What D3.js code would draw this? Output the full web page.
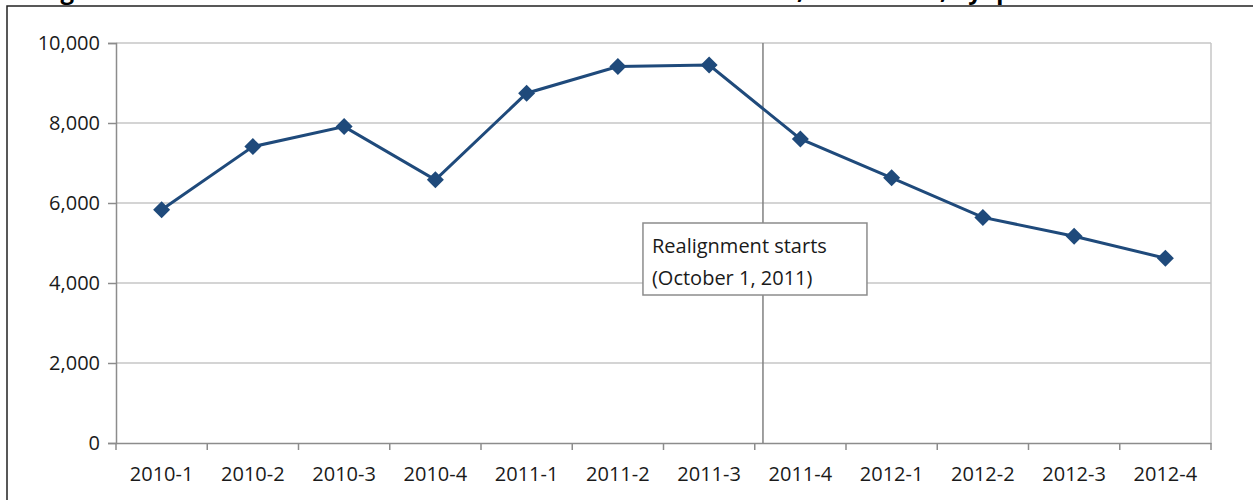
<!DOCTYPE html>
<html lang="en">

<head>
    <meta charset="UTF-8">
    <title>Realignment chart</title>
    <script src="https://d3js.org/d3.v7.min.js"></script>
    <style>
        body {
            margin: 0;
            background: #fff;
        }

        text {
            font-family: "Open Sans", "Noto Sans", sans-serif;
            fill: #1a1a1a;
        }
    </style>
</head>

<body>
    <svg width="1253" height="500"></svg>

    <script>
        const width = 1253;
        const height = 500;

        // data
        const quarters = ["2010-1", "2010-2", "2010-3", "2010-4", "2011-1", "2011-2",
            "2011-3", "2011-4", "2012-1", "2012-2", "2012-3", "2012-4"];
        const values = [5830, 7410, 7910, 6580, 8745, 9410, 9450, 7600, 6630, 5640, 5170, 4620];
        const yTicks = [0, 2000, 4000, 6000, 8000, 10000];
        const noteLines = ["Realignment starts", "(October 1, 2011)"];

        const svg = d3.select("svg");
        const margin = { top: 43, right: 42, bottom: 57, left: 116 };

        const x = d3.scaleBand().domain(quarters).range([margin.left, width - margin.right]);
        const y = d3.scaleLinear().domain([0, 10000]).range([height - margin.bottom, margin.top]);

        // outer frame (chart is cropped from a bigger figure)
        svg.append("path")
            .attr("d", "M7,500 V6 H1253")
            .attr("fill", "none")
            .attr("stroke", "#222")
            .attr("stroke-width", 1.5);

        // cropped title, only descenders show
        const title = svg.append("text")
            .attr("y", -1)
            .style("font-weight", "bold")
            .style("font-size", "24px")
            .style("fill", "#000");
        title.append("tspan").attr("x", 797).attr("text-anchor", "end")
            .text("Figure 3: Number of new felon admissions to CDCR in California");
        title.append("tspan").attr("x", 797).attr("text-anchor", "start").text(", 2010\u20132012");
        title.append("tspan").attr("x", 940).attr("text-anchor", "start").text(", by quarter");

        // gridlines
        svg.append("g")
            .selectAll("line")
            .data(yTicks.filter(d => d > 0))
            .join("line")
            .attr("x1", margin.left)
            .attr("x2", width - margin.right)
            .attr("y1", d => y(d))
            .attr("y2", d => y(d))
            .attr("stroke", "#c6c6c6")
            .attr("stroke-width", 1.5);

        // right border of plot area
        svg.append("line")
            .attr("x1", width - margin.right).attr("x2", width - margin.right)
            .attr("y1", y(10000)).attr("y2", y(0))
            .attr("stroke", "#c6c6c6")
            .attr("stroke-width", 1.5);

        // y axis
        const yAxis = svg.append("g")
            .attr("transform", `translate(${margin.left},0)`)
            .call(d3.axisLeft(y).tickValues(yTicks).tickSize(8).tickPadding(8).tickFormat(d3.format(",")));
        yAxis.select(".domain").attr("stroke", "#8c8c8c").attr("stroke-width", 1.5);
        yAxis.selectAll(".tick line").attr("stroke", "#8c8c8c").attr("stroke-width", 1.5);
        yAxis.selectAll("text").style("font-size", "20px").attr("fill", "#1a1a1a");

        // x axis (labels centred, ticks on category boundaries)
        const xAxis = svg.append("g")
            .attr("transform", `translate(0,${y(0)})`)
            .call(d3.axisBottom(x).tickSize(0).tickPadding(24));
        xAxis.select(".domain").attr("stroke", "#8c8c8c").attr("stroke-width", 1.5);
        xAxis.selectAll("text").style("font-size", "20px").attr("fill", "#1a1a1a");

        const bounds = quarters.map(q => x(q)).concat([x(quarters[quarters.length - 1]) + x.bandwidth()]);
        svg.append("g")
            .selectAll("line")
            .data(bounds)
            .join("line")
            .attr("x1", d => d).attr("x2", d => d)
            .attr("y1", y(0)).attr("y2", y(0) + 7)
            .attr("stroke", "#8c8c8c")
            .attr("stroke-width", 1.5);

        // realignment marker
        const realignX = x("2011-4") + x.bandwidth() * 0.09;
        svg.append("line")
            .attr("x1", realignX).attr("x2", realignX)
            .attr("y1", y(10000)).attr("y2", y(0))
            .attr("stroke", "#808080")
            .attr("stroke-width", 1.5);

        const boxLeft = realignX - 120;
        const boxTop = y(5500);
        svg.append("rect")
            .attr("x", boxLeft)
            .attr("y", boxTop)
            .attr("width", 224)
            .attr("height", y(3700) - boxTop)
            .attr("fill", "#fff")
            .attr("stroke", "#8c8c8c")
            .attr("stroke-width", 1.5);

        svg.append("g")
            .selectAll("text")
            .data(noteLines)
            .join("text")
            .attr("x", boxLeft + 9)
            .attr("y", (d, i) => boxTop + 30 + i * 32)
            .style("font-size", "20px")
            .text(d => d);

        // series
        const line = d3.line()
            .x((d, i) => x(quarters[i]) + x.bandwidth() / 2)
            .y(d => y(d));

        svg.append("path")
            .datum(values)
            .attr("fill", "none")
            .attr("stroke", "#1f4a7b")
            .attr("stroke-width", 3)
            .attr("d", line);

        svg.append("g")
            .selectAll("path")
            .data(values)
            .join("path")
            .attr("d", d3.symbol(d3.symbolSquare, 145))
            .attr("transform", (d, i) => `translate(${x(quarters[i]) + x.bandwidth() / 2},${y(d)}) rotate(45)`)
            .attr("fill", "#1f4a7b");
    </script>
</body>

</html>
